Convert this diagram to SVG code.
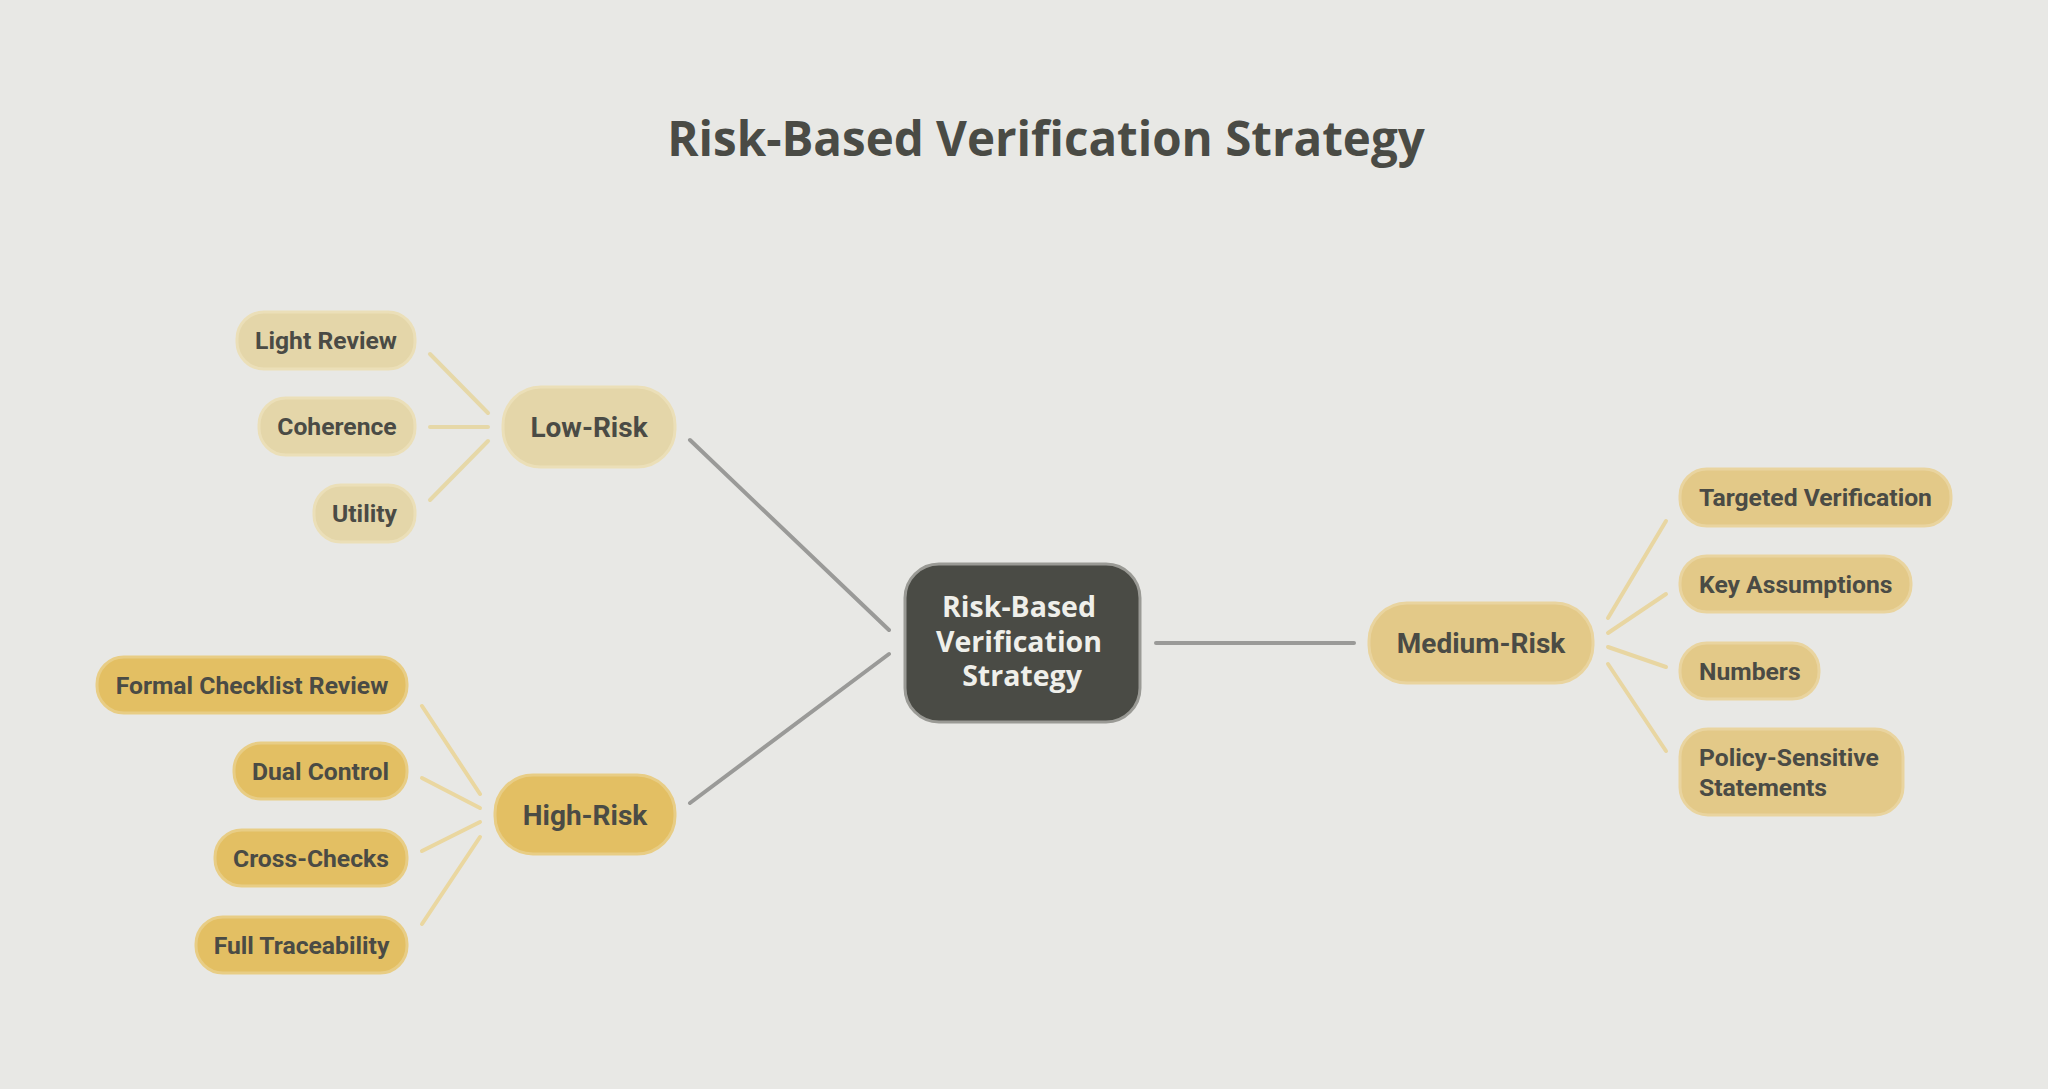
<svg xmlns="http://www.w3.org/2000/svg" width="2048" height="1089" viewBox="0 0 2048 1089">
<style>
.bg{fill:#e8e8e5}
.title{font-family:"Open Sans","Liberation Sans",sans-serif;font-weight:700;font-size:47.5px;fill:#4a4b45}
.ctext{font-family:"Open Sans","Liberation Sans",sans-serif;font-weight:700;font-size:28.5px;fill:#efefea}
.l1{font-family:Roboto,"Liberation Sans",sans-serif;font-weight:700;font-size:28px;fill:#4a4b45}
.l2{font-family:Roboto,"Liberation Sans",sans-serif;font-weight:700;font-size:24.7px;fill:#4a4b45}
.center{fill:#4a4b45;stroke:#9a9a95;stroke-width:3}
.low{fill:#e4d6a9;stroke:#ebdfb8;stroke-width:3}
.med{fill:#e3c988;stroke:#e9d49f;stroke-width:3}
.high{fill:#e3bf63;stroke:#e8cd85;stroke-width:3}
.main{stroke:#9a9a98;stroke-width:4;stroke-linecap:round;fill:none}
.sub{stroke-width:4;stroke-linecap:round;fill:none}
.sl{stroke:#e6d8a8}
.sm{stroke:#e8d6a2}
.sh{stroke:#ead7a0}
</style>
<rect class="bg" x="0" y="0" width="2048" height="1089"/>
<text class="title" x="1046" y="156" text-anchor="middle">Risk-Based Verification Strategy</text>
<g id="connectors">
<line class="main" x1="690" y1="440" x2="889" y2="630"/>
<line class="main" x1="690" y1="803" x2="889" y2="654"/>
<line class="main" x1="1156" y1="643" x2="1354" y2="643"/>
<line class="sub sl" x1="430" y1="354" x2="488" y2="413"/>
<line class="sub sl" x1="430" y1="427" x2="488" y2="427"/>
<line class="sub sl" x1="430" y1="500" x2="488" y2="441"/>
<line class="sub sh" x1="422" y1="706" x2="480" y2="794"/>
<line class="sub sh" x1="422" y1="778" x2="480" y2="808"/>
<line class="sub sh" x1="422" y1="851" x2="480" y2="822"/>
<line class="sub sh" x1="422" y1="924" x2="480" y2="837"/>
<line class="sub sm" x1="1608" y1="618" x2="1666" y2="521"/>
<line class="sub sm" x1="1608" y1="633" x2="1666" y2="594"/>
<line class="sub sm" x1="1608" y1="647" x2="1666" y2="667"/>
<line class="sub sm" x1="1608" y1="664" x2="1666" y2="751"/>
</g>
<g id="center">
<rect class="center" x="905" y="564" width="235" height="158" rx="34"/>
<text class="ctext" x="1019" y="617" text-anchor="middle">Risk-Based</text>
<text class="ctext" x="1019" y="652" text-anchor="middle">Verification</text>
<text class="ctext" x="1022" y="686" text-anchor="middle">Strategy</text>
</g>
<g id="low-risk">
<rect class="low" x="503" y="387" width="172" height="80" rx="38"/>
<text class="l1" x="589" y="437" text-anchor="middle">Low-Risk</text>
</g>
<g id="high-risk">
<rect class="high" x="495" y="775" width="180" height="79" rx="38"/>
<text class="l1" x="585" y="825" text-anchor="middle">High-Risk</text>
</g>
<g id="medium-risk">
<rect class="med" x="1369" y="603" width="224" height="80" rx="38"/>
<text class="l1" x="1481" y="653" text-anchor="middle">Medium-Risk</text>
</g>
<g id="light-review">
<rect class="low" x="237" y="312" width="178" height="57" rx="27"/>
<text class="l2" x="326" y="349" text-anchor="middle">Light Review</text>
</g>
<g id="coherence">
<rect class="low" x="259" y="398" width="156" height="57" rx="27"/>
<text class="l2" x="337" y="435" text-anchor="middle">Coherence</text>
</g>
<g id="utility">
<rect class="low" x="314" y="485" width="101" height="57" rx="27"/>
<text class="l2" x="364.5" y="522" text-anchor="middle">Utility</text>
</g>
<g id="formal-checklist-review">
<rect class="high" x="97" y="657" width="310" height="56" rx="27"/>
<text class="l2" x="252" y="694" text-anchor="middle">Formal Checklist Review</text>
</g>
<g id="dual-control">
<rect class="high" x="234" y="743" width="173" height="56" rx="27"/>
<text class="l2" x="320.5" y="780" text-anchor="middle">Dual Control</text>
</g>
<g id="cross-checks">
<rect class="high" x="215" y="830" width="192" height="56" rx="27"/>
<text class="l2" x="311" y="867" text-anchor="middle">Cross-Checks</text>
</g>
<g id="full-traceability">
<rect class="high" x="196" y="917" width="211" height="56" rx="27"/>
<text class="l2" x="301.5" y="954" text-anchor="middle">Full Traceability</text>
</g>
<g id="targeted-verification">
<rect class="med" x="1680" y="469" width="271" height="57" rx="27"/>
<text class="l2" x="1699" y="506">Targeted Verification</text>
</g>
<g id="key-assumptions">
<rect class="med" x="1680" y="556" width="231" height="56" rx="27"/>
<text class="l2" x="1699" y="593">Key Assumptions</text>
</g>
<g id="numbers">
<rect class="med" x="1680" y="643" width="139" height="56" rx="27"/>
<text class="l2" x="1699" y="680">Numbers</text>
</g>
<g id="policy-sensitive-statements">
<rect class="med" x="1680" y="729" width="223" height="86" rx="28"/>
<text class="l2" x="1699" y="766">Policy-Sensitive</text>
<text class="l2" x="1699" y="796">Statements</text>
</g>
</svg>
